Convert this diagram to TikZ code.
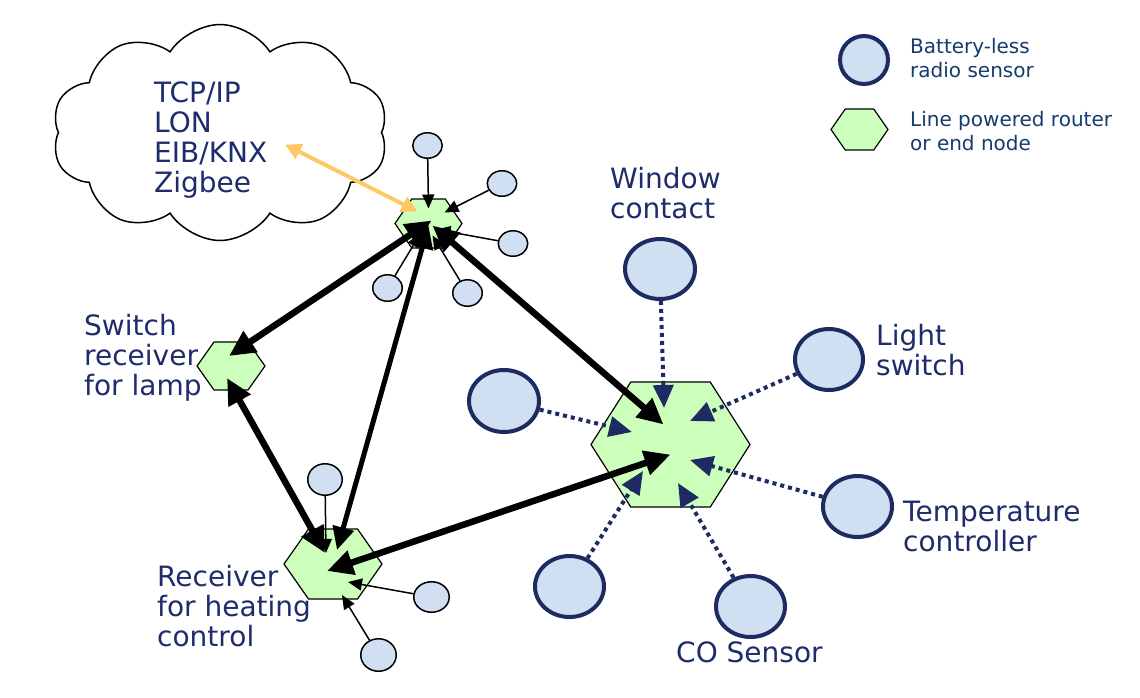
\documentclass[tikz,border=0pt]{standalone}
\usepackage{fontspec}
\setmainfont{DejaVu Sans}
\usetikzlibrary{arrows.meta,shapes.geometric,shapes.symbols}
\definecolor{navy}{RGB}{31,44,107}
\definecolor{legendblue}{RGB}{22,60,110}
\definecolor{sensorfill}{RGB}{209,223,242}
\definecolor{hexfill}{RGB}{204,255,187}
\definecolor{orangearrow}{RGB}{255,200,100}
\definecolor{darkline}{RGB}{30,42,98}
\tikzset{
  hexbox/.style={inner sep=0pt, outer sep=0pt, draw=none},
  hexline/.style={draw=black, line width=1.2pt, fill=hexfill, line join=miter},
  smallsensor/.style={ellipse, draw=black, line width=1.5pt, fill=sensorfill, inner sep=0pt},
  bigsensor/.style={ellipse, draw=darkline, line width=4pt, fill=sensorfill, inner sep=0pt},
  thickarrow/.style={draw=black, line width=6.5pt, {Triangle[length=26pt,width=24pt]}-{Triangle[length=26pt,width=24pt]}},
  medarrow/.style={draw=black, line width=5pt, {Triangle[length=23pt,width=21pt]}-{Triangle[length=23pt,width=21pt]}},
  dotarrow/.style={draw=darkline, line width=4pt, dash pattern=on 4pt off 4pt, -{Triangle[length=23pt,width=20pt]}},
  orarrow/.style={draw=orangearrow, line width=4pt, {Triangle[length=16pt,width=16pt]}-{Triangle[length=16pt,width=16pt]}},
  thinarrow/.style={draw=black, line width=1.5pt, -{Triangle[length=14pt,width=12pt]}},
  lbl/.style={text=navy, font=\fontsize{28}{30}\selectfont, align=left, anchor=north west, inner sep=0pt},
  legendtxt/.style={text=legendblue, font=\fontsize{20}{24}\selectfont, align=left, anchor=north west, inner sep=0pt}
}
\newcommand{\hexnode}[5]{%
  \node[hexbox, minimum width=#4pt, minimum height=#5pt] (#1) at (#2,#3) {};
  \draw[hexline] (#1.west) -- ([xshift=#4pt/4]#1.north west) -- ([xshift=-#4pt/4]#1.north east) -- (#1.east) -- ([xshift=-#4pt/4]#1.south east) -- ([xshift=#4pt/4]#1.south west) -- cycle;
}
\begin{document}
\begin{tikzpicture}[x=1pt,y=-1pt]
\fill[white] (0,0) rectangle (1140,697);
\useasboundingbox (0,0) rectangle (1140,697);

% cloud
\node[cloud, cloud puffs=10, cloud puff arc=115, aspect=1.55, draw=black, line width=1.5pt, fill=white, minimum width=336pt, minimum height=216pt, inner sep=0pt] (cloud) at (220,132.5) {};
\node[lbl] (proto) at (154,82) {TCP/IP\\LON\\EIB/KNX\\Zigbee};

% legend
\node[bigsensor, minimum width=48pt, minimum height=48pt] (legsensor) at (864,60) {};
\node[legendtxt] (legtxt1) at (910,38) {Battery-less\\radio sensor};
\hexnode{leghex}{859.5}{129.5}{57}{41}
\node[legendtxt] (legtxt2) at (910,111) {Line powered router\\or end node};

% hexagons
\hexnode{H1}{428.5}{223.5}{67}{49}
\hexnode{H2}{231}{366}{68}{48}
\hexnode{H3}{333}{564}{98}{70}
\hexnode{H4}{670.5}{444.5}{159}{125}

% small sensors
\node[smallsensor, minimum width=29.5pt, minimum height=25.5pt] (s1) at (427.5,145.5) {};
\node[smallsensor, minimum width=29.5pt, minimum height=25.5pt] (s2) at (502,183.5) {};
\node[smallsensor, minimum width=29.5pt, minimum height=25.5pt] (s3) at (513,243.5) {};
\node[smallsensor, minimum width=29.5pt, minimum height=26.5pt] (s4) at (467.5,293) {};
\node[smallsensor, minimum width=29.5pt, minimum height=26.5pt] (s5) at (387.5,288) {};
\node[smallsensor, minimum width=34.5pt, minimum height=31.5pt] (s6) at (325,479.5) {};
\node[smallsensor, minimum width=35.5pt, minimum height=30.5pt] (s7) at (431.5,597) {};
\node[smallsensor, minimum width=35.5pt, minimum height=32.5pt] (s8) at (378.5,655) {};

% big sensors
\node[bigsensor, minimum width=70pt, minimum height=60pt] (B1) at (660,269) {};
\node[bigsensor, minimum width=68pt, minimum height=61pt] (B2) at (829,359.5) {};
\node[bigsensor, minimum width=70pt, minimum height=62pt] (B3) at (504,401) {};
\node[bigsensor, minimum width=69pt, minimum height=61pt] (B4) at (857.5,506.5) {};
\node[bigsensor, minimum width=69pt, minimum height=61pt] (B5) at (569.5,586.5) {};
\node[bigsensor, minimum width=69pt, minimum height=61pt] (B6) at (750.5,606.5) {};

% labels
\node[lbl] (lwin) at (610,167) {Window\\contact};
\node[lbl] (llight) at (876,324) {Light\\switch};
\node[lbl] (lswitch) at (84,314) {Switch\\receiver\\for lamp};
\node[lbl] (lrecv) at (157,565) {Receiver\\for heating\\control};
\node[lbl] (ltemp) at (903,501) {Temperature\\controller};
\node[lbl] (lco) at (676,642) {CO Sensor};

% thin arrows
\draw[thinarrow] (s1) -- ([shift={(0,-15)}]H1.center);
\draw[thinarrow] (s2) -- ([shift={(16,-11)}]H1.center);
\draw[thinarrow] (s3) -- ([shift={(8,6)}]H1.center);
\draw[thinarrow] (s4) -- ([shift={(4,12)}]H1.center);
\draw[thinarrow] (s5) -- ([shift={(-8,10)}]H1.center);
\draw[thinarrow] (s6) -- ([shift={(-7,-11)}]H3.center);
\draw[thinarrow] (s7) -- ([shift={(15,18)}]H3.center);
\draw[thinarrow] (s8) -- ([shift={(9,31)}]H3.center);

% dotted arrows
\draw[dotarrow] (B1) -- ([shift={(-6.5,-36.5)}]H4.center);
\draw[dotarrow] (B2) -- ([shift={(19.5,-23.5)}]H4.center);
\draw[dotarrow] (B3) -- ([shift={(-38.5,-12.5)}]H4.center);
\draw[dotarrow] (B4) -- ([shift={(19.5,15.5)}]H4.center);
\draw[dotarrow] (B5) -- ([shift={(-27.5,26.5)}]H4.center);
\draw[dotarrow] (B6) -- ([shift={(7.5,38.5)}]H4.center);

% thick arrows
\draw[thickarrow] ([shift={(3,-3)}]H1.center) -- ([shift={(-2,-10)}]H2.center);
\draw[medarrow] ([shift={(0,2)}]H1.center) -- ([shift={(4,-14)}]H3.center);
\draw[thickarrow] ([shift={(4,2)}]H1.center) -- ([shift={(-7,-20)}]H4.center);
\draw[thickarrow] ([shift={(-4,12)}]H2.center) -- ([shift={(-8,-11)}]H3.center);
\draw[thickarrow] ([shift={(-6,7)}]H3.center) -- ([shift={(0,10)}]H4.center);

% orange arrow
\draw[orarrow] ([shift={(65,12)}]cloud.center) -- ([shift={(-11,-12)}]H1.center);
\end{tikzpicture}
\end{document}
